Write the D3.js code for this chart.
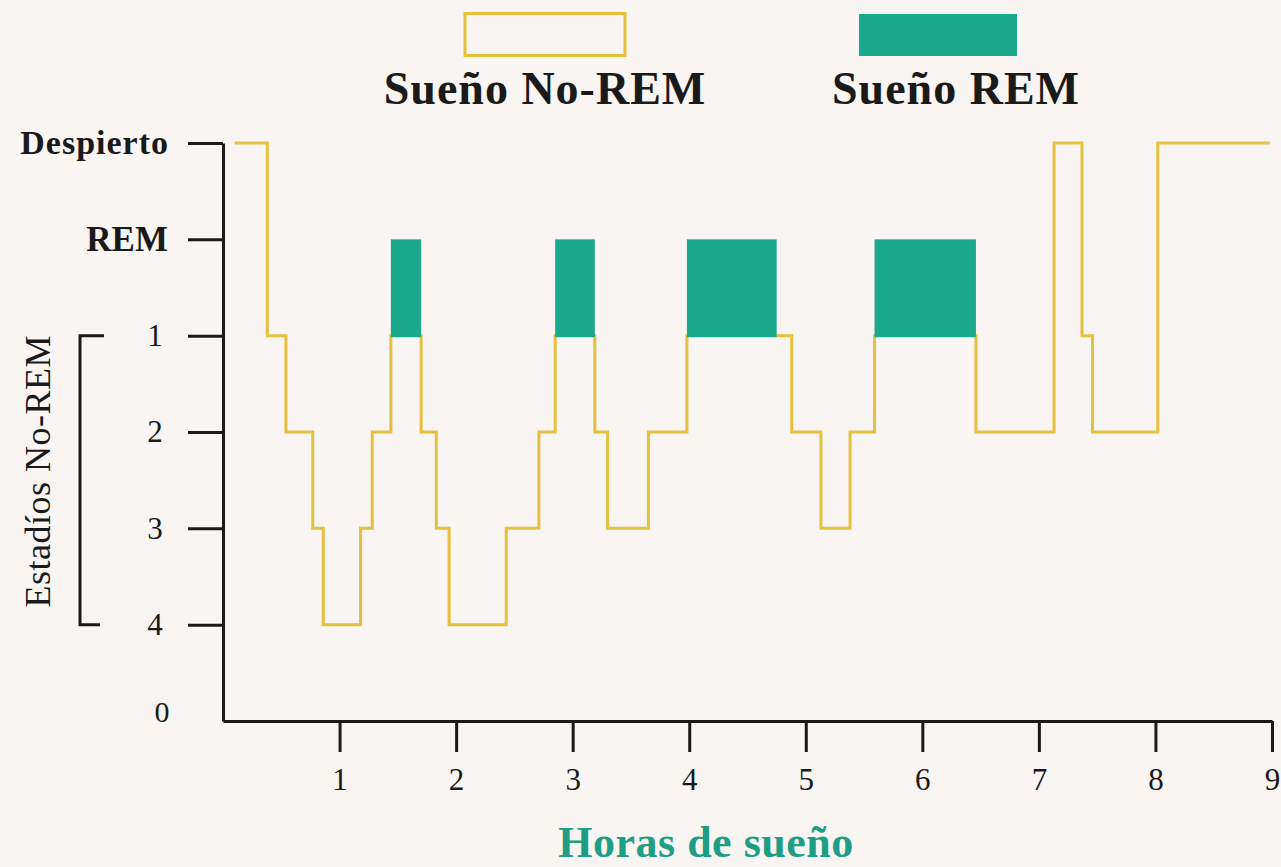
<!DOCTYPE html>
<html>
<head>
<meta charset="utf-8">
<script src="https://cdn.jsdelivr.net/npm/d3@7"></script>
<style>
  body { margin: 0; background: #f8f5f2; }
  svg { display: block; font-family: 'Liberation Serif', serif; }
</style>
</head>
<body>
<svg width="1281" height="867"></svg>
<script>
/* hipnograma: fases del sueño */

// DATA ///////////////////////////////////////////////////////////////////////
const stages = ['Despierto', 'REM', '1', '2', '3', '4', '0'];
const hours = [1, 2, 3, 4, 5, 6, 7, 8, 9];

// step changes (hour at which each stage starts)
const stepTimes = [0.1, 0.38, 0.54, 0.77, 0.86, 1.18, 1.28, 1.44, 1.7, 1.83,
  1.94, 2.43, 2.71, 2.85, 3.19, 3.3, 3.65, 3.98, 4.88, 5.13,
  5.38, 5.59, 6.46, 7.13, 7.37, 7.46, 8.02, 8.98];
const stepStages = ['Despierto', '1', '2', '3', '4', '3', '2', '1', '2', '3',
  '4', '3', '2', '1', '2', '3', '2', '1', '2', '3',
  '2', '1', '2', 'Despierto', '1', '2', 'Despierto', 'Despierto'];

// REM periods
const remStart = [1.44, 2.85, 3.98, 5.59];
const remEnd = [1.7, 3.19, 4.75, 6.46];

const legendLabels = ['Sueño No-REM', 'Sueño REM'];

// SET PARAMETERS /////////////////////////////////////////////////////////////
const svg = d3.select('svg');
const yellow = '#e6c03e';
const teal = '#1aa98b';
const ink = '#1a1a1a';

const x = d3.scaleLinear().domain([0, 9]).range([223, 1272]);
const y = d3.scalePoint().domain(stages).range([143, 721]);

const steps = stepTimes.map((t, i) => ({ t: t, stage: stepStages[i] }));
const rems = remStart.map((s, i) => ({ start: s, end: remEnd[i] }));

// DRAW ///////////////////////////////////////////////////////////////////////

// hypnogram line
const line = d3
  .line()
  .x(d => x(d.t))
  .y(d => y(d.stage))
  .curve(d3.curveStepAfter);

svg
  .append('path')
  .datum(steps)
  .attr('fill', 'none')
  .attr('stroke', yellow)
  .attr('stroke-width', 3)
  .attr('d', line);

// REM blocks
svg
  .selectAll('.rem')
  .data(rems)
  .enter()
  .append('rect')
  .attr('class', 'rem')
  .attr('x', d => x(d.start))
  .attr('y', y('REM'))
  .attr('width', d => x(d.end) - x(d.start))
  .attr('height', y('1') - y('REM') + 1.5)
  .attr('fill', teal);

// x axis
const xAxis = svg
  .append('g')
  .attr('transform', `translate(0,${y('0')})`)
  .call(
    d3
      .axisBottom(x)
      .tickValues(hours)
      .tickSize(31)
      .tickSizeOuter(0)
      .tickPadding(16)
      .tickFormat(d3.format('d'))
  );

xAxis.select('.domain').attr('stroke', ink).attr('stroke-width', 3);
xAxis.selectAll('.tick line').attr('stroke', ink).attr('stroke-width', 3);
xAxis
  .selectAll('.tick text')
  .attr('fill', ink)
  .style('font-size', '31px')
  .style('font-family', 'Liberation Serif, serif');

// y axis
const yAxis = svg
  .append('g')
  .attr('transform', `translate(${x(0)},0)`)
  .call(d3.axisLeft(y).tickSize(35).tickSizeOuter(0));

yAxis.select('.domain').attr('stroke', ink).attr('stroke-width', 3);
yAxis.selectAll('.tick line').attr('stroke', ink).attr('stroke-width', 3);
yAxis.selectAll('.tick').filter(d => d === '0').select('line').remove();

yAxis
  .selectAll('.tick text')
  .attr('fill', ink)
  .style('font-family', 'Liberation Serif, serif')
  .each(function(d) {
    const t = d3.select(this);
    if (d === 'Despierto') {
      t.attr('x', -54)
        .style('font-size', '34px')
        .style('font-weight', 'bold')
        .style('letter-spacing', '1px');
    } else if (d === 'REM') {
      t.attr('x', -55)
        .style('font-size', '35px')
        .style('font-weight', 'bold');
    } else if (d === '0') {
      t.attr('x', -61)
        .attr('y', -9)
        .attr('text-anchor', 'middle')
        .style('font-size', '30px');
    } else {
      t.attr('x', -68)
        .attr('text-anchor', 'middle')
        .style('font-size', '31px');
    }
  });

// bracket for No-REM stages
svg
  .append('path')
  .attr('fill', 'none')
  .attr('stroke', ink)
  .attr('stroke-width', 3)
  .attr('d', `M104,${y('1')}H80V${y('4')}H100`);

svg
  .append('text')
  .attr('transform', `translate(50,${(y('1') + y('4')) / 2 - 9}) rotate(-90)`)
  .attr('text-anchor', 'middle')
  .attr('fill', ink)
  .style('font-size', '36px')
  .style('letter-spacing', '0.5px')
  .text('Estadíos No-REM');

// x axis title
svg
  .append('text')
  .attr('x', 706)
  .attr('y', 857)
  .attr('text-anchor', 'middle')
  .attr('fill', '#1f9e86')
  .style('font-size', '44px')
  .style('font-weight', 'bold')
  .style('letter-spacing', '0.5px')
  .text('Horas de sueño');

// legend
const legend = svg
  .selectAll('.legend')
  .data(legendLabels)
  .enter()
  .append('g')
  .attr('class', 'legend')
  .attr('transform', (d, i) => `translate(${i === 0 ? 545 : 939},0)`);

legend
  .append('rect')
  .attr('x', -80)
  .attr('y', (d, i) => (i === 0 ? 13.5 : 14))
  .attr('width', (d, i) => (i === 0 ? 160 : 158))
  .attr('height', 42)
  .attr('fill', (d, i) => (i === 0 ? 'none' : teal))
  .attr('stroke', (d, i) => (i === 0 ? yellow : 'none'))
  .attr('stroke-width', 3);

legend
  .append('text')
  .attr('x', (d, i) => (i === 0 ? 0 : 17))
  .attr('y', 104)
  .attr('text-anchor', 'middle')
  .attr('fill', ink)
  .style('font-size', '46px')
  .style('font-weight', 'bold')
  .style('letter-spacing', '1px')
  .text(d => d);
</script>
</body>
</html>
